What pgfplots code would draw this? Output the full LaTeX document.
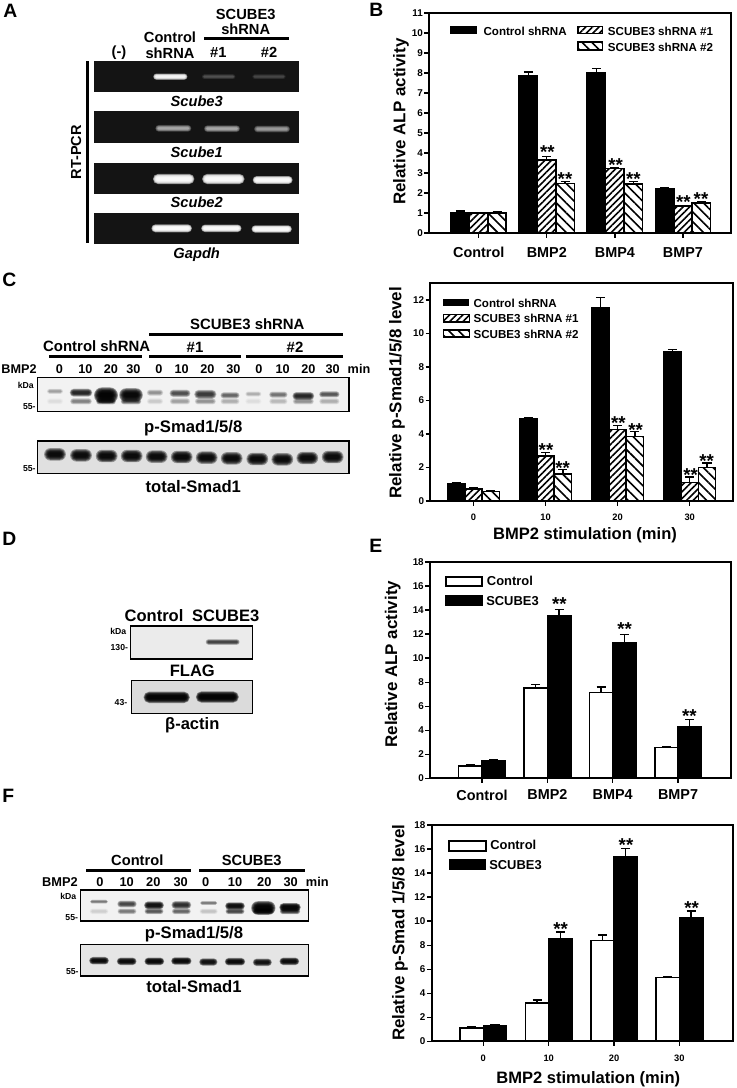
\documentclass[border=0pt]{standalone}
\usepackage{pgfplots}
\pgfplotsset{compat=1.18}
\usepackage{pgfplotstable}
\usepackage{fontspec}
\setmainfont{Liberation Sans}
\usetikzlibrary{patterns.meta}

\pgfplotstableread{
x a ae b be c ce
0 1.03 0.07 1.00 0.03 1.00 0.05
1 7.85 0.20 3.65 0.18 2.47 0.12
2 8.03 0.20 3.23 0.05 2.45 0.12
3 2.22 0.05 1.35 0.03 1.50 0.05
}\tabB
\pgfplotstableread{
x a ae b be c ce
0 1.03 0.08 0.73 0.08 0.57 0.03
1 4.90 0.10 2.70 0.20 1.62 0.28
2 11.55 0.60 4.27 0.25 3.85 0.28
3 8.93 0.12 1.10 0.33 2.00 0.27
}\tabC
\pgfplotstableread{
x a ae b be
0 1.00 0.12 1.47 0.12
1 7.53 0.25 13.55 0.50
2 7.15 0.45 11.25 0.70
3 2.55 0.12 4.28 0.60
}\tabE
\pgfplotstableread{
x a ae b be
0 1.12 0.12 1.28 0.12
1 3.18 0.25 8.55 0.55
2 8.40 0.45 15.35 0.70
3 5.30 0.12 10.25 0.60
}\tabF

\tikzset{
  hatchA/.style={pattern={Lines[angle=45,distance=3.5pt,line width=1.2pt]},pattern color=black},
  hatchB/.style={pattern={Lines[angle=-45,distance=5.2pt,line width=1.2pt]},pattern color=black},
}
\pgfplotsset{
  panel/.style={
    scale only axis, anchor=south west, axis on top,
    axis line style={line width=1.3pt},
    xtick pos=bottom, ytick pos=left, tick align=outside,
    major tick length=3.5pt,
    tick style={line width=1pt,black},
    ybar=0pt, ymin=0,
    xtick={0,1,2,3},
    scaled y ticks=false,
    yticklabel style={/pgf/number format/assume math mode=true,font=\fontsize{7.4}{8}\selectfont\bfseries,inner sep=1pt},
    ylabel style={font=\fontsize{12.7}{14}\selectfont\bfseries},
    xlabel style={font=\fontsize{12.4}{14}\selectfont\bfseries},
  },
  barbase/.style={
    draw=black,line width=1.2pt,
    /pgfplots/error bars/y dir=plus,
    /pgfplots/error bars/y explicit,
    /pgfplots/error bars/error bar style={line width=1pt,black},
    /pgfplots/error bars/error mark options={rotate=90,mark size=3.4pt,line width=1pt,black},
  },
  catlabels/.style={xticklabels={Control,BMP2,BMP4,BMP7},
    xticklabel style={font=\fontsize{10.8}{12}\selectfont\bfseries,yshift=-3pt}},
  timelabels/.style={xticklabels={0,10,20,30},
    xticklabel style={font=\fontsize{7}{8}\selectfont\bfseries,yshift=-3pt}},
}

% text helpers
\newcommand\txt[4]{\node[inner sep=0pt,anchor=base,font=\fontsize{#3}{#3}\selectfont\bfseries,yshift={-0.36*#3 pt}] at (#1,#2) {#4};}
\newcommand\itxt[4]{\node[inner sep=0pt,anchor=base,font=\fontsize{#3}{#3}\selectfont\bfseries\itshape,yshift={-0.36*#3 pt}] at (#1,#2) {#4};}
\newcommand\ltxt[4]{\node[inner sep=0pt,anchor=base west,font=\fontsize{#3}{#3}\selectfont\bfseries,yshift={-0.36*#3 pt}] at (#1,#2) {#4};}
\newcommand\stars[2]{\node[inner sep=0pt,anchor=north,font=\fontsize{14}{14}\selectfont\bfseries,yshift=2.8pt] at (#1,#2) {**};}
\newcommand\band[6]{%
  \foreach \s in {1.7,1.5,1.3,1.1,0.9,0.7,0.5}{%
    \pgfmathsetmacro\hw{(#3)/2+(\s-1)*(#4)/2}%
    \pgfmathsetmacro\hh{\s*(#4)/2}%
    \pgfmathsetmacro\rr{\hh*0.25}%
    \pgfmathsetmacro\oo{(#6)*0.45}%
    \fill[#5,fill opacity=\oo,rounded corners=\rr pt] ({#1-\hw},{#2-\hh}) rectangle ({#1+\hw},{#2+\hh});
  }}
\newcommand\legbox[5]{\draw[line width=1.2pt,#5] (#1,#2) rectangle (#3,#4);}
\newcommand\At[2]{at={({#1*0.75pt},{-#2*0.75pt})}}

\begin{document}
\begin{tikzpicture}
\path[use as bounding box,fill=white] (0pt,0pt) rectangle (552pt,-816pt);

% ---------- Panel B
\begin{axis}[panel,\At{429}{233},width=226.5pt,height=165pt,
  xmin=-0.73,xmax=3.706,ymax=11,ytick={0,1,...,11},catlabels,bar width=0.27,
  xticklabel style={yshift=-0.7pt},
  ylabel={Relative ALP activity},
  ylabel style={at={(axis description cs:-0.093,0.506)},anchor=center}]
\addplot[barbase,fill=black] table[x=x,y=a,y error=ae]{\tabB};
\addplot[barbase,hatchA] table[x=x,y=b,y error=be]{\tabB};
\addplot[barbase,hatchB] table[x=x,y=c,y error=ce]{\tabB};
\end{axis}

% ---------- Panel C (chart)
\begin{axis}[panel,\At{430.3}{501},width=226.8pt,height=163.3pt,
  xmin=-0.60,xmax=3.597,ymax=13,ytick={0,2,...,12},timelabels,bar width=0.24,
  ylabel={Relative p-Smad1/5/8 level},
  ylabel style={at={(axis description cs:-0.110,0.497)},anchor=center},
  xlabel={BMP2 stimulation (min)},
  xlabel style={at={(axis description cs:0.5116,-0.156)},anchor=center}]
\addplot[barbase,fill=black] table[x=x,y=a,y error=ae]{\tabC};
\addplot[barbase,hatchA] table[x=x,y=b,y error=be]{\tabC};
\addplot[barbase,hatchB] table[x=x,y=c,y error=ce]{\tabC};
\end{axis}

% ---------- Panel E
\begin{axis}[panel,\At{430}{778.3},width=225.8pt,height=162.2pt,
  xmin=-0.796,xmax=3.811,ymax=18,ytick={0,2,...,18},catlabels,bar width=0.357,
  xticklabel style={yshift=1.5pt},
  ylabel={Relative ALP activity},
  ylabel style={at={(axis description cs:-0.124,0.528)},anchor=center}]
\addplot[barbase,fill=white] table[x=x,y=a,y error=ae]{\tabE};
\addplot[barbase,fill=black] table[x=x,y=b,y error=be]{\tabE};
\end{axis}

% ---------- Panel F (chart)
\begin{axis}[panel,\At{431.7}{1041.3},width=225.8pt,height=162.2pt,
  xmin=-0.79,xmax=3.816,ymax=18,ytick={0,2,...,18},timelabels,bar width=0.357,
  ylabel={Relative p-Smad 1/5/8 level},
  ylabel style={at={(axis description cs:-0.105,0.502)},anchor=center},
  xlabel={BMP2 stimulation (min)},
  xlabel style={at={(axis description cs:0.52,-0.176)},anchor=center}]
\addplot[barbase,fill=white] table[x=x,y=a,y error=ae]{\tabF};
\addplot[barbase,fill=black] table[x=x,y=b,y error=be]{\tabF};
\end{axis}

\begin{scope}[x=0.75pt,y=-0.75pt]
% ---------- Panel letters
\ltxt{3}{11}{14.5}{A}
\ltxt{369}{10}{14.5}{B}
\ltxt{2}{280}{14.5}{C}
\ltxt{2}{539}{14.5}{D}
\ltxt{369}{546}{14.5}{E}
\ltxt{2}{796}{14.5}{F}

% legends and significance marks
\fill[black] (450,26) rectangle (476.7,34);
\ltxt{483.3}{31}{8.7}{Control shRNA}
\legbox{578}{26.7}{602.3}{33.7}{hatchA}
\ltxt{607.7}{31}{8.7}{SCUBE3 shRNA \#1}
\legbox{578}{42.3}{602.3}{50}{hatchB}
\ltxt{607.7}{47}{8.7}{SCUBE3 shRNA \#2}
\begin{scope}[shift={(370,0)},x=0.25pt,y=-0.25pt]
\stars{532}{447}\stars{585}{527}\stars{737}{487}\stars{790}{527}\stars{940}{598}\stars{993}{588}
\end{scope}

\fill[black] (443.3,298.7) rectangle (469.3,306);
\ltxt{473.3}{303.3}{8.7}{Control shRNA}
\legbox{443.3}{314.3}{469.3}{321.7}{hatchA}
\ltxt{473.3}{318.7}{8.7}{SCUBE3 shRNA \#1}
\legbox{443.3}{330}{469.3}{336.7}{hatchB}
\ltxt{473.3}{334.3}{8.7}{SCUBE3 shRNA \#2}
\begin{scope}[shift={(370,270)},x=0.25pt,y=-0.25pt]
\stars{528}{532}\stars{578}{584}\stars{745}{450}\stars{797}{470}\stars{962}{607}\stars{1010}{565}
\end{scope}

\legbox{446}{577}{482}{585.7}{fill=white}
\fill[black] (445.3,595.3) rectangle (482.7,606);
\ltxt{486.7}{581.3}{9.7}{Control}
\ltxt{486}{600.7}{9.7}{SCUBE3}
\begin{scope}[shift={(370,550)},x=0.25pt,y=-0.25pt]
\stars{568}{152}\stars{764}{228}\stars{958}{490}
\end{scope}

\legbox{448.7}{841}{486}{850.7}{fill=white}
\fill[black] (448.7,859.3) rectangle (486,870);
\ltxt{490}{845.3}{9.7}{Control}
\ltxt{489}{865}{9.7}{SCUBE3}
\begin{scope}[shift={(370,810)},x=0.25pt,y=-0.25pt]
\stars{572}{347}\stars{768}{97}\stars{965}{284}
\end{scope}

% ---------- Panel A gels (coordinates: 3x pixels)
\begin{scope}[x=0.25pt,y=-0.25pt]
\foreach \t/\b in {183/277,333/428,490/583,638/732}{
  \fill[black!92] (283,\t) rectangle (897,\b);
}
\band{511}{230}{95}{11}{white}{0.8}
\band{656}{230}{95}{9}{white}{0.1}
\band{807}{230}{95}{9}{white}{0.08}
\band{520}{385}{100}{12}{white}{0.3}
\band{666}{386}{100}{12}{white}{0.3}
\band{816}{387}{100}{12}{white}{0.25}
\band{521}{537}{112}{18}{white}{0.98}
\band{670}{537}{115}{18}{white}{0.98}
\band{818}{540}{110}{14}{white}{0.98}
\band{515}{685}{112}{14}{white}{0.95}
\band{664}{685}{112}{13}{white}{0.95}
\band{815}{687}{112}{13}{white}{0.95}
\fill[black] (258,183) rectangle (267,728);
\fill[black] (612,112) rectangle (868,119);
\end{scope}
\txt{119}{51.7}{11}{(-)}
\txt{170}{37.7}{11}{Control}
\txt{170}{53.3}{11}{shRNA}
\txt{245.7}{14.3}{11}{SCUBE3}
\txt{245.7}{29.3}{11}{shRNA}
\txt{218.3}{52.3}{11}{\#1}
\txt{269}{52.3}{11}{\#2}
\node[inner sep=0pt,rotate=90,anchor=center,font=\fontsize{10.9}{11}\selectfont\bfseries] at (76,152.3) {RT-PCR};
\itxt{196.7}{101.7}{11}{Scube3}
\itxt{196.7}{152}{11}{Scube1}
\itxt{196.7}{202.3}{11}{Scube2}
\itxt{196.7}{253.3}{11}{Gapdh}

% ---------- Panel C blots
\begin{scope}[shift={(0,270)},x=0.25pt,y=-0.25pt]
\fill[black!5] (112,323) rectangle (1047,425);
\fill[black!12] (112,513) rectangle (1047,610);
\foreach \c/\w/\ya/\ha/\oa/\ob in {
 165/42/364/9/0.12/0.03, 243/58/368/14/0.5/0.18, 318/52/376/28/0.95/0.35, 393/54/375/24/0.8/0.3,
 465/42/368/11/0.15/0.05, 540/54/370/13/0.32/0.12, 616/56/373/16/0.4/0.15, 690/50/376/11/0.25/0.1,
 760/42/372/9/0.1/0.03, 835/48/374/11/0.22/0.08, 910/56/378/14/0.5/0.15, 988/54/373/11/0.3/0.1}{
  \band{\c}{\ya}{\w}{\ha}{black}{\oa}
  \band{\c}{394}{\w}{11}{black}{\ob}
}
\foreach \c/\y in {165/553,243/556,320/558,395/558,470/560,545/561,620/563,695/565,772/567,847/568,922/564,998/561}{
  \band{\c}{\y}{50}{22}{black}{0.75}
}
\draw[line width=1.1pt] (112,323) rectangle (1047,425);
\draw[line width=1.1pt] (112,513) rectangle (1047,610);
\fill[black] (447,189) rectangle (1030,198);
\fill[black] (148,255) rectangle (425,264);
\fill[black] (447,255) rectangle (723,264);
\fill[black] (737,255) rectangle (1030,264);
\end{scope}
\txt{247.3}{324.3}{11.2}{SCUBE3 shRNA}
\txt{96.7}{346}{11.2}{Control shRNA}
\txt{195}{347.3}{11.2}{\#1}
\txt{295}{347.3}{11.2}{\#2}
\txt{19}{369.3}{9.5}{BMP2}
\foreach \x/\l in {178/0,256/10,333/20,400/30,477/0,545/10,622/20,700/30,777/0,848/10,925/20,998/30,1077/min}{
  \txt{\x/3}{369.3}{9.5}{\l}
}
\txt{25.7}{385}{6.5}{kDa}
\txt{29.3}{406}{6.5}{55-}
\txt{29.3}{468.3}{6.5}{55-}
\txt{193.3}{426}{12.5}{p-Smad1/5/8}
\txt{193.3}{486.7}{12.5}{total-Smad1}

% ---------- Panel D blots
\begin{scope}[shift={(0,530)},x=0.25pt,y=-0.25pt]
\fill[black!8] (392,288) rectangle (757,387);
\fill[black!14] (395,452) rectangle (758,550);
\band{668}{336}{95}{10}{black}{0.35}
\band{500}{502}{125}{20}{black}{0.9}
\band{652}{501}{115}{20}{black}{0.9}
\draw[line width=1.1pt] (392,288) rectangle (757,387);
\draw[line width=1.1pt] (395,452) rectangle (758,550);
\end{scope}
\txt{154}{616}{12.4}{Control}
\txt{225.7}{616}{12.4}{SCUBE3}
\txt{118.3}{631}{6.5}{kDa}
\txt{119.3}{647.7}{6.5}{130-}
\txt{192.3}{671}{12.4}{FLAG}
\txt{121}{702.3}{6.5}{43-}
\txt{192.3}{723.3}{12.4}{β-actin}

% ---------- Panel F blots
\begin{scope}[shift={(0,780)},x=0.25pt,y=-0.25pt]
\fill[black!5] (241,330) rectangle (925,423);
\fill[black!10] (241,493) rectangle (925,588);
\foreach \c/\w/\ya/\ha/\oa/\ob in {
 297/50/365/7/0.2/0.04, 381/50/372/12/0.35/0.2, 462/50/376/14/0.65/0.3, 544/50/375/14/0.45/0.25,
 626/48/369/7/0.2/0.06, 705/50/378/13/0.7/0.35, 790/56/384/24/0.95/0.35, 870/54/382/15/0.85/0.4}{
  \band{\c}{\ya}{\w}{\ha}{black}{\oa}
  \band{\c}{394}{\w}{10}{black}{\ob}
}
\foreach \c/\w/\y/\o in {297/50/542/0.75,380/50/544/0.75,463/50/544/0.8,544/52/543/0.75,625/46/546/0.65,705/52/545/0.75,787/48/547/0.65,868/50/544/0.75}{
  \band{\c}{\y}{\w}{13}{black}{\o}
}
\draw[line width=1.1pt] (241,330) rectangle (925,423);
\draw[line width=1.1pt] (241,493) rectangle (925,588);
\fill[black] (257,268) rectangle (572,276);
\fill[black] (598,268) rectangle (915,276);
\end{scope}
\txt{137.3}{860.7}{11}{Control}
\txt{251.7}{860.7}{11}{SCUBE3}
\txt{60}{882.3}{9.6}{BMP2}
\foreach \x/\l in {300/0,380/10,460/20,542/30,617/0,705/10,793/20,872/30,952/min}{
  \txt{\x/3}{882.3}{9.6}{\l}
}
\txt{68.3}{896.7}{6.5}{kDa}
\txt{71.7}{917.3}{6.5}{55-}
\txt{72.3}{971}{6.5}{55-}
\txt{194}{932.3}{12.5}{p-Smad1/5/8}
\txt{194}{986.7}{12.5}{total-Smad1}
\end{scope}
\end{tikzpicture}
\end{document}
